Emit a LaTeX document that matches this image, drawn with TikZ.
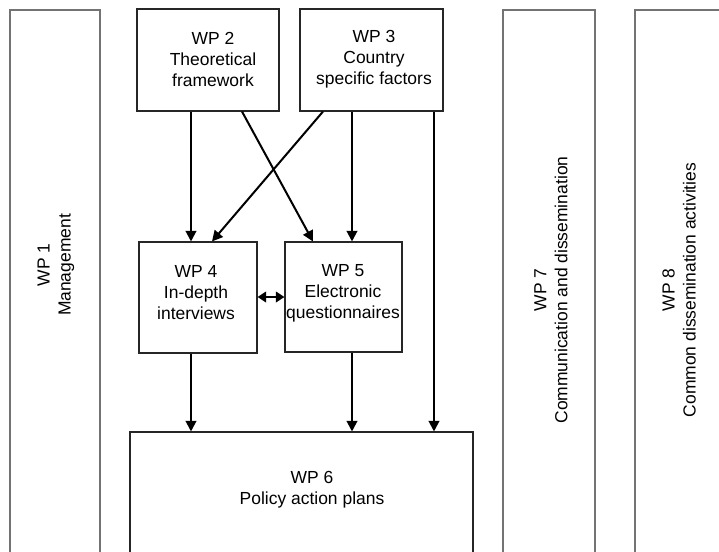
\documentclass[tikz,border=0pt]{standalone}
\usepackage{fontspec}
\setmainfont{Liberation Sans}
\usetikzlibrary{arrows.meta}
\begin{document}
\begin{tikzpicture}[x=0.75pt,y=-0.75pt,
  box/.style={draw=black!85, line width=0.8pt, inner sep=0pt},
  tall/.style={draw=black!55, line width=1.3pt, inner sep=0pt, minimum height=416.25pt},
  lbl/.style={align=center, font=\fontsize{13.1}{15.75}\selectfont, inner sep=0pt},
  arr/.style={line width=1.5pt, -{Triangle[length=8pt,width=8pt]}},
  darr/.style={line width=1.5pt, {Triangle[length=6.5pt,width=8pt]}-{Triangle[length=6.5pt,width=8pt]}}
]
\useasboundingbox (0,0) rectangle (719,551);
\clip (0,0) rectangle (719,551);
% boxes
\node[tall, minimum width=67.5pt] (wp1) at (55,287.5) {};
\node[tall, minimum width=69pt] (wp7) at (549,287.5) {};
\node[tall, minimum width=67.5pt] (wp8) at (680,287.5) {};
\node[box, minimum width=106.5pt, minimum height=76.5pt] (wp2) at (208,60) {};
\node[box, minimum width=107.25pt, minimum height=76.5pt] (wp3) at (371.5,60) {};
\node[box, minimum width=88.5pt, minimum height=83.25pt] (wp4) at (198,297.5) {};
\node[box, minimum width=87.75pt, minimum height=82.5pt] (wp5) at (343.5,297) {};
\node[box, minimum width=257.25pt, minimum height=103.5pt] (wp6) at (301.5,501) {};
% labels
\node[lbl, rotate=90] (t1) at (56,265) {WP 1\\Management};
\node[lbl, rotate=90] (t7) at (551,290) {WP 7\\Communication and dissemination};
\node[lbl, rotate=90] (t8) at (679,290) {WP 8\\Common dissemination activities};
\node[lbl] (t2) at (213,59) {WP 2\\Theoretical\\framework};
\node[lbl] (t3) at (374,59) {WP 3\\Country\\specific factors};
\node[lbl] (t4) at (196,293) {WP 4\\In-depth\\interviews};
\node[lbl] (t5) at (343,293) {WP 5\\Electronic\\questionnaires};
\node[lbl] (t6) at (312,490) {WP 6\\Policy action plans};
% x / y references
\coordinate (c191) at (191,0);
\coordinate (c212) at (212,0);
\coordinate (c242) at (242,0);
\coordinate (c313) at (313,0);
\coordinate (c323) at (323,0);
\coordinate (c352) at (352,0);
\coordinate (c434) at (434,0);
\coordinate (r297) at (0,297);
% arrows
\draw[arr] (wp2.south -| c191) -- (wp4.north -| c191);
\draw[arr] (wp2.south -| c242) -- (wp5.north -| c313);
\draw[arr] (wp3.south -| c323) -- (wp4.north -| c212);
\draw[arr] (wp3.south -| c352) -- (wp5.north -| c352);
\draw[arr] (wp3.south -| c434) -- (wp6.north -| c434);
\draw[arr] (wp4.south -| c191) -- (wp6.north -| c191);
\draw[arr] (wp5.south -| c352) -- (wp6.north -| c352);
\draw[darr] (wp4.east |- r297) -- (wp5.west |- r297);
\end{tikzpicture}
\end{document}
